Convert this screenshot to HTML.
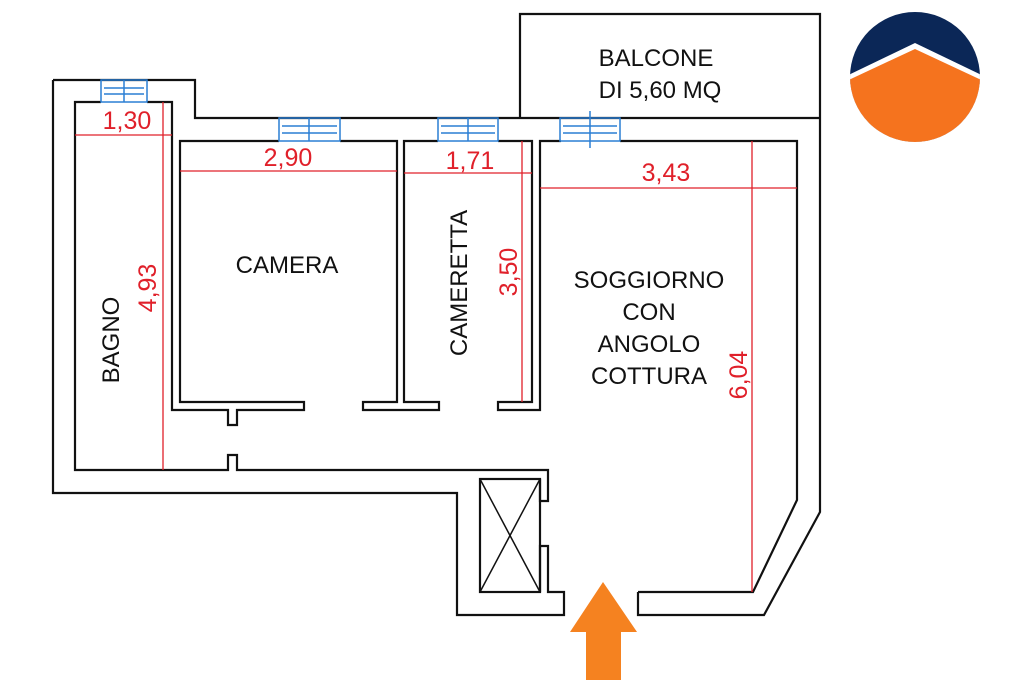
<!DOCTYPE html>
<html><head><meta charset="utf-8"><style>
html,body{margin:0;padding:0;background:#fff;}
svg{display:block;}
text{font-family:"Liberation Sans",Arial,sans-serif;}
</style></head><body>
<svg width="1024" height="682" viewBox="0 0 1024 682" xmlns="http://www.w3.org/2000/svg">
<g fill="none" stroke="#111" stroke-width="2.2">
<polyline points="53,80 195,80 195,118 820,118"/>
<polyline points="53,80 53,493 457,493 457,615 564,615 564,592 548,592 548,546 540,546 540,592"/>
<polyline points="638,592 638,615 764,615 820,512 820,14 520,14 520,118"/>
<polyline points="101,102 75,102 75,470 228,470 228,455 237,455 237,470 548,470 548,501 540,501 540,479"/>
<polyline points="147,102 172,102 172,410 228,410 228,425 237,425 237,410 304,410 304,402 180,402 180,141 279,141"/>
<polyline points="340,141 397,141 397,402 363,402 363,410 439,410 439,402 404,402 404,141 438,141"/>
<polyline points="498,141 532,141 532,402 498,402 498,410 540,410 540,141 561,141"/>
<polyline points="620,141 797,141 797,500 753,592 638,592"/>
<rect x="480" y="479" width="60" height="113"/>
<line x1="480" y1="479" x2="540" y2="592" stroke-width="1.5"/>
<line x1="540" y1="479" x2="480" y2="592" stroke-width="1.5"/>
</g>
<g fill="none" stroke="#2a7fd4" stroke-width="1.5">
<rect x="101" y="80" width="46" height="22"/><line x1="124" y1="80" x2="124" y2="102"/><line x1="104" y1="88" x2="144" y2="88"/><line x1="104" y1="94" x2="144" y2="94"/>
<rect x="279" y="118" width="61" height="23"/><line x1="309" y1="118" x2="309" y2="141"/><line x1="282" y1="126" x2="337" y2="126"/><line x1="282" y1="133" x2="337" y2="133"/>
<rect x="438" y="118" width="60" height="23"/><line x1="468" y1="118" x2="468" y2="141"/><line x1="441" y1="126" x2="495" y2="126"/><line x1="441" y1="133" x2="495" y2="133"/>
<rect x="560" y="118" width="60" height="23"/><line x1="590" y1="111" x2="590" y2="148"/><line x1="563" y1="126" x2="617" y2="126"/><line x1="563" y1="133" x2="617" y2="133"/>
</g>
<g stroke="#e0202a" stroke-width="1.3">
<line x1="75" y1="135" x2="172" y2="135"/><line x1="163" y1="102" x2="163" y2="470"/>
<line x1="180" y1="171" x2="397" y2="171"/>
<line x1="404" y1="173" x2="532" y2="173"/><line x1="522" y1="141" x2="522" y2="402"/>
<line x1="540" y1="188" x2="797" y2="188"/><line x1="752" y1="141" x2="752" y2="592"/>
</g>
<g fill="#e0202a" font-size="25" text-anchor="middle">
<text x="127" y="129">1,30</text>
<text x="288" y="166">2,90</text>
<text x="470" y="169">1,71</text>
<text x="666" y="181">3,43</text>
<text transform="translate(156,288) rotate(-90)">4,93</text>
<text transform="translate(517,272) rotate(-90)">3,50</text>
<text transform="translate(747,375) rotate(-90)">6,04</text>
</g>
<g fill="#111" font-size="24" text-anchor="middle">
<text x="287" y="273">CAMERA</text>
<text transform="translate(119,340) rotate(-90)">BAGNO</text>
<text transform="translate(467,283) rotate(-90)">CAMERETTA</text>
<text x="649" y="288">SOGGIORNO</text>
<text x="649" y="320">CON</text>
<text x="649" y="352">ANGOLO</text>
<text x="649" y="384">COTTURA</text>
<text x="656" y="66">BALCONE</text>
<text x="660" y="98">DI 5,60 MQ</text>
</g>
<defs><clipPath id="c"><circle cx="915" cy="77" r="65"/></clipPath></defs>
<g clip-path="url(#c)">
<rect x="850" y="12" width="130" height="130" fill="#0b2757"/>
<polygon points="840,79 915,43 990,79 990,150 840,150" fill="#fff"/>
<polygon points="840,84 915,49 990,84 990,150 840,150" fill="#f5731e"/>
</g>
<polygon points="603,582 637,632 621,632 621,680 586,680 586,632 570,632" fill="#f58220"/>
</svg>
</body></html>
